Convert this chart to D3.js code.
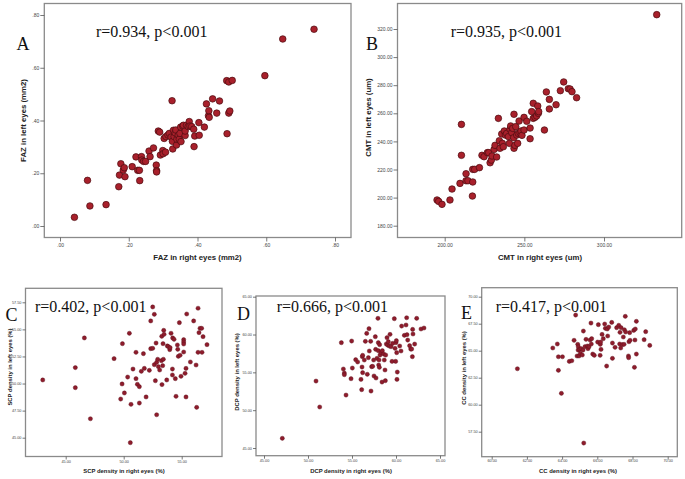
<!DOCTYPE html>
<html><head><meta charset="utf-8">
<script src="https://cdn.jsdelivr.net/npm/d3@7"></script>
<style>body{margin:0;background:#fff}svg{display:block}</style>
</head><body>
<svg id="c" width="685" height="479"></svg>
<script>
// ---------- data ----------
const aX=[0.042,0.080,0.087,0.134,0.171,0.173,0.177,0.184,0.187,0.189,0.210,0.221,0.226,0.231,0.232,0.237,0.238,0.243,0.249,0.259,0.262,0.272,0.280,0.281,0.281,0.286,0.290,0.292,0.299,0.300,0.303,0.307,0.308,0.314,0.318,0.323,0.326,0.327,0.328,0.330,0.332,0.335,0.337,0.339,0.340,0.344,0.347,0.349,0.351,0.352,0.357,0.359,0.364,0.364,0.368,0.373,0.376,0.378,0.383,0.389,0.390,0.392,0.404,0.405,0.420,0.426,0.432,0.433,0.434,0.444,0.456,0.464,0.485,0.486,0.491,0.491,0.494,0.501,0.596,0.648,0.739];
const aY=[0.033,0.173,0.076,0.081,0.149,0.193,0.236,0.212,0.221,0.187,0.225,0.262,0.211,0.211,0.172,0.263,0.250,0.245,0.245,0.284,0.263,0.296,0.231,0.210,0.205,0.360,0.356,0.269,0.286,0.274,0.332,0.280,0.339,0.345,0.351,0.337,0.475,0.321,0.292,0.363,0.339,0.353,0.364,0.307,0.329,0.344,0.329,0.351,0.375,0.320,0.379,0.382,0.343,0.360,0.382,0.377,0.396,0.379,0.377,0.367,0.301,0.341,0.392,0.344,0.375,0.463,0.418,0.437,0.412,0.482,0.428,0.474,0.551,0.350,0.546,0.428,0.436,0.552,0.570,0.709,0.746];
const bX=[195.2,196.2,198.3,203.3,204.6,209.6,210.5,210.5,213.4,213.4,214.6,217.6,217.4,217.6,218.8,221.8,223.4,224.7,226.8,227.6,228.5,229.3,229.7,231.0,231.6,232.6,233.7,234.3,234.7,235.8,236.2,236.8,237.4,238.1,238.9,240.0,240.6,241.0,241.4,242.1,242.7,243.3,243.5,243.5,244.1,244.6,245.2,245.8,246.2,246.7,247.3,247.9,248.5,249.8,249.8,251.5,253.6,253.6,254.6,255.6,255.6,256.7,257.7,258.4,258.8,259.0,262.6,263.8,265.7,265.7,269.9,272.6,274.7,277.6,278.7,279.9,282.8,333.1];
const bY=[198.3,197.3,195.2,198.3,206.1,210.1,252.1,230.1,217.0,212.0,212.0,211.1,201.1,220.1,220.1,221.3,230.1,229.1,232.0,232.0,224.8,226.7,229.6,234.3,237.2,228.9,256.4,240.5,235.1,245.3,238.6,236.2,247.4,244.5,245.7,243.4,238.6,248.6,251.0,246.2,249.3,242.6,235.1,259.3,237.2,250.5,244.5,238.6,245.7,254.5,246.2,247.4,244.3,257.1,248.1,254.3,249.5,241.9,261.2,267.1,256.4,257.1,258.1,265.2,260.0,261.2,248.1,275.2,269.9,263.1,266.1,276.1,282.3,277.5,277.3,275.4,271.1,330.2];
const cX=[43.02,45.83,45.83,46.61,47.13,49.17,49.74,49.86,49.89,50.06,50.34,50.49,50.57,50.63,50.80,51.06,51.06,51.18,51.35,51.35,51.52,51.70,51.78,51.93,52.21,52.33,52.33,52.50,52.50,52.64,52.64,52.73,52.79,52.84,52.84,52.93,52.99,53.10,53.25,53.28,53.30,53.36,53.39,53.42,53.45,53.48,53.71,53.76,53.85,53.97,54.00,54.08,54.20,54.20,54.22,54.34,54.45,54.51,54.63,54.66,54.71,54.80,54.86,54.94,55.17,55.17,55.17,55.17,55.29,55.37,55.37,55.43,55.75,56.03,56.24,56.29,56.41,56.41,56.49,56.58,56.72,56.75,56.84,57.18];
const cY=[50.33,51.47,49.62,54.21,46.75,52.30,48.57,49.96,53.68,49.13,50.60,54.64,44.54,48.08,51.34,50.45,52.88,49.93,49.71,48.20,51.13,52.76,51.40,48.76,51.22,55.78,53.22,57.07,53.25,56.39,51.74,50.26,53.74,47.12,51.96,52.24,51.56,51.25,52.11,54.36,49.90,51.65,53.68,52.24,54.91,54.54,50.33,53.47,53.41,53.13,53.31,54.64,51.34,50.79,54.21,54.08,50.45,48.82,53.56,53.16,52.51,55.62,52.61,50.67,52.91,54.05,53.84,53.65,50.94,51.40,48.76,56.42,51.99,55.78,51.71,47.80,52.88,56.95,54.70,55.10,55.10,52.88,54.33,53.59];
const dX=[47.08,50.91,51.33,53.79,54.02,54.13,54.13,54.32,54.89,54.96,55.04,55.42,55.64,56.02,56.10,56.14,56.17,56.21,56.21,56.40,56.52,56.67,56.74,56.86,56.93,56.97,57.12,57.16,57.23,57.35,57.46,57.50,57.65,57.69,57.73,57.84,57.95,57.99,57.99,58.03,58.07,58.11,58.14,58.18,58.30,58.41,58.45,58.60,58.67,58.75,58.79,58.83,58.90,58.98,59.05,59.13,59.24,59.32,59.43,59.55,59.62,59.81,59.89,59.96,60.00,60.04,60.08,60.11,60.15,60.42,60.57,60.64,60.95,61.14,61.21,61.25,61.33,61.55,61.67,61.78,61.86,61.89,61.93,62.12,62.35,62.84,63.18];
const dY=[46.28,53.85,50.42,58.92,55.44,54.91,54.69,52.00,54.16,59.14,55.57,56.67,56.37,54.07,52.71,55.70,57.07,57.25,54.96,56.63,59.10,60.15,54.74,56.94,60.77,57.82,59.10,52.53,55.75,55.79,56.63,54.52,59.71,58.04,54.25,56.85,62.14,58.92,57.86,55.97,56.63,55.66,58.66,57.29,57.64,53.72,57.86,57.42,56.63,55.31,53.90,57.29,58.74,59.58,58.61,59.05,58.48,60.02,58.39,56.45,58.83,62.09,58.17,56.45,58.92,59.19,57.60,54.07,55.04,58.48,57.82,61.12,59.89,61.26,62.22,59.98,59.27,58.52,58.08,58.08,57.07,60.68,60.07,58.74,62.14,60.73,60.86];
const eX=[61.46,63.47,63.73,63.79,63.79,63.96,64.02,64.41,64.55,64.68,64.77,64.85,64.89,64.91,64.92,64.96,65.00,65.04,65.08,65.15,65.19,65.21,65.23,65.30,65.36,65.44,65.47,65.53,65.59,65.64,65.66,65.68,65.74,65.83,66.02,66.06,66.16,66.17,66.19,66.21,66.27,66.34,66.42,66.46,66.53,66.57,66.59,66.65,66.82,66.86,66.86,67.01,67.10,67.22,67.27,67.29,67.33,67.35,67.42,67.48,67.52,67.54,67.59,67.61,67.77,67.78,67.80,67.84,67.86,68.07,68.11,68.14,68.16,68.22,68.22,68.66,68.75,68.98];
const eY=[63.33,65.25,65.62,64.44,63.18,61.05,64.44,64.01,64.07,65.96,68.30,64.51,65.59,65.06,65.37,64.51,65.12,64.75,65.19,64.60,65.06,66.82,56.45,65.37,66.05,65.43,65.19,65.37,65.99,67.56,65.62,66.11,64.69,64.57,65.80,67.41,64.57,65.59,65.80,65.12,66.51,66.11,67.47,67.07,63.58,67.01,66.36,67.19,67.62,65.71,64.29,65.31,67.13,67.35,65.62,66.70,65.25,67.13,65.56,66.27,65.59,66.94,68.18,66.73,64.51,64.35,65.83,66.67,65.96,66.88,63.46,65.99,67.01,67.72,64.69,66.02,66.76,65.49];

const aTicks=[0,0.2,0.4,0.6,0.8];
const aTickLabels=[".00",".20",".40",".60",".80"];
const bXTicks=[200,250,300];
const bXTickLabels=["200.00","250.00","300.00"];
const bYTicks=[180,200,220,240,260,280,300,320];
const bYTickLabels=["180.00","200.00","220.00","240.00","260.00","280.00","300.00","320.00"];
const cXTicks=[45,50,55];
const cXTickLabels=["45.00","50.00","55.00"];
const cYTicks=[45,47.5,50,52.5,55,57.5];
const cYTickLabels=["45.00","47.50","50.00","52.50","55.00","57.50"];
const dTicks=[45,50,55,60,65];
const dTickLabels=["45.00","50.00","55.00","60.00","65.00"];
const eXTicks=[60,62,64,66,68,70];
const eXTickLabels=["60.00","62.00","64.00","66.00","68.00","70.00"];
const eYTicks=[57.5,60,62.5,65,67.5,70];
const eYTickLabels=["57.50","60.00","62.50","65.00","67.50","70.00"];

const panelLetters=["A","B","C","D","E"];
const stats=["r=0.934, p<0.001","r=0.935, p<0.001","r=0.402, p<0.001","r=0.666, p<0.001","r=0.417, p<0.001"];
const xTitles=["FAZ in right eyes (mm2)","CMT in right eyes (um)","SCP density in right eyes (%)","DCP density in right eyes (%)","CC density in right eyes (%)"];
const yTitles=["FAZ in left eyes (mm2)","CMT in left eyes (um)","SCP density in left eyes (%)","DCP density in left eyes (%)","CC density in left eyes (%)"];

// ---------- layout ----------
const big={r:3.3,fill:"#a8202b",stroke:"#4a0c10",sw:0.7,tickFs:5,titleFs:7.8,tickLen:4};
const small={r:2.1,fill:"#8e1c2c",stroke:"#5a1018",sw:0.4,tickFs:3.8,titleFs:5.9,tickLen:3};
const panels=[
 {xs:aX,ys:aY,xd:[0,0.8],xr:[60,335],yd:[0,0.8],yr:[226,15],fr:[44.3,3.5,351,237.5],
  xt:aTicks,xtl:aTickLabels,yt:aTicks,ytl:aTickLabels,st:big,letter:[23,50],stat:[96,37],ytx:23.5,yty:120.5,xtx:197.5,xty:260,xlab:247},
 {xs:bX,ys:bY,xd:[200,300],xr:[444.7,604],yd:[180,320],yr:[225.7,29],fr:[397.5,3.5,681.7,237.5],
  xt:bXTicks,xtl:bXTickLabels,yt:bYTicks,ytl:bYTickLabels,st:big,letter:[372,50],stat:[450.7,37],ytx:368.3,yty:117.5,xtx:540,xty:260,xlab:247},
 {xs:cX,ys:cY,xd:[45,55],xr:[65.7,181.7],yd:[45,57.5],yr:[437.7,302.3],fr:[25.5,288.3,222,456.5],
  xt:cXTicks,xtl:cXTickLabels,yt:cYTicks,ytl:cYTickLabels,st:small,letter:[11.5,320.5],stat:[35,312],ytx:10,yty:367,xtx:124,xty:472.7,xlab:462.5},
 {xs:dX,ys:dY,xd:[45,65],xr:[264,440],yd:[45,65],yr:[448,296.7],fr:[256,296,445,455.7],
  xt:dTicks,xtl:dTickLabels,yt:dTicks,ytl:dTickLabels,st:small,letter:[243.5,320],stat:[276.7,312],ytx:236.7,yty:372,xtx:351,xty:472.7,xlab:462.5},
 {xs:eX,ys:eY,xd:[60,70],xr:[491.7,667.7],yd:[57.5,70],yr:[431.7,296.7],fr:[481.7,287.7,677.3,456.7],
  xt:eXTicks,xtl:eXTickLabels,yt:eYTicks,ytl:eYTickLabels,st:small,letter:[466.5,318.5],stat:[495.7,312],ytx:464.3,yty:368,xtx:578,xty:472.7,xlab:462.5}
];

const svg=d3.select("#c");
const frameColor="#8a8a8a", tickColor="#555", textColor="#222";

panels.forEach((p,i)=>{
  const s=p.st;
  const x=d3.scaleLinear().domain(p.xd).range(p.xr);
  const y=d3.scaleLinear().domain(p.yd).range(p.yr);
  const [x0,y0,x1,y1]=p.fr;
  const g=svg.append("g");
  g.append("rect").attr("x",x0).attr("y",y0).attr("width",x1-x0).attr("height",y1-y0)
    .attr("fill","#fff").attr("stroke",frameColor).attr("stroke-width",1.3);
  const xa=d3.axisBottom(x).tickValues(p.xt).tickSize(s.tickLen).tickPadding(1.5)
    .tickFormat((d,k)=>p.xtl[k]);
  const gx=g.append("g").attr("transform",`translate(0,${y1})`).call(xa);
  gx.select(".domain").remove();
  gx.selectAll("line").attr("stroke",tickColor).attr("stroke-width",0.8);
  gx.selectAll("text").attr("font-family","Liberation Sans, Arial, sans-serif").attr("font-size",s.tickFs)
    .attr("fill","#444").attr("dy",null).attr("y",p.xlab-y1);
  const ya=d3.axisLeft(y).tickValues(p.yt).tickSize(s.tickLen).tickPadding(1)
    .tickFormat((d,k)=>p.ytl[k]);
  const gy=g.append("g").attr("transform",`translate(${x0},0)`).call(ya);
  gy.select(".domain").remove();
  gy.selectAll("line").attr("stroke",tickColor).attr("stroke-width",0.8);
  gy.selectAll("text").attr("font-family","Liberation Sans, Arial, sans-serif").attr("font-size",s.tickFs).attr("fill","#444");
  g.append("g").selectAll("circle").data(p.xs.map((v,k)=>[v,p.ys[k]])).join("circle")
    .attr("cx",d=>x(d[0])).attr("cy",d=>y(d[1])).attr("r",s.r)
    .attr("fill",s.fill).attr("stroke",s.stroke).attr("stroke-width",s.sw);
  g.append("text").attr("x",p.xtx).attr("y",p.xty).attr("text-anchor","middle")
    .attr("font-family","Liberation Sans, Arial, sans-serif").attr("font-weight","bold")
    .attr("font-size",s.titleFs).attr("fill",textColor).text(xTitles[i]);
  g.append("text").attr("transform",`translate(${p.ytx},${p.yty}) rotate(-90)`).attr("text-anchor","middle")
    .attr("dominant-baseline","central")
    .attr("font-family","Liberation Sans, Arial, sans-serif").attr("font-weight","bold")
    .attr("font-size",s.titleFs).attr("fill",textColor).text(yTitles[i]);
  g.append("text").attr("x",p.letter[0]).attr("y",p.letter[1]).attr("text-anchor","middle")
    .attr("font-family","Liberation Serif, Times New Roman, serif").attr("font-size",18)
    .attr("fill","#111").text(panelLetters[i]);
  g.append("text").attr("x",p.stat[0]).attr("y",p.stat[1])
    .attr("font-family","Liberation Serif, Times New Roman, serif").attr("font-size",16)
    .attr("fill","#111").text(stats[i]);
});
</script>
</body></html>
